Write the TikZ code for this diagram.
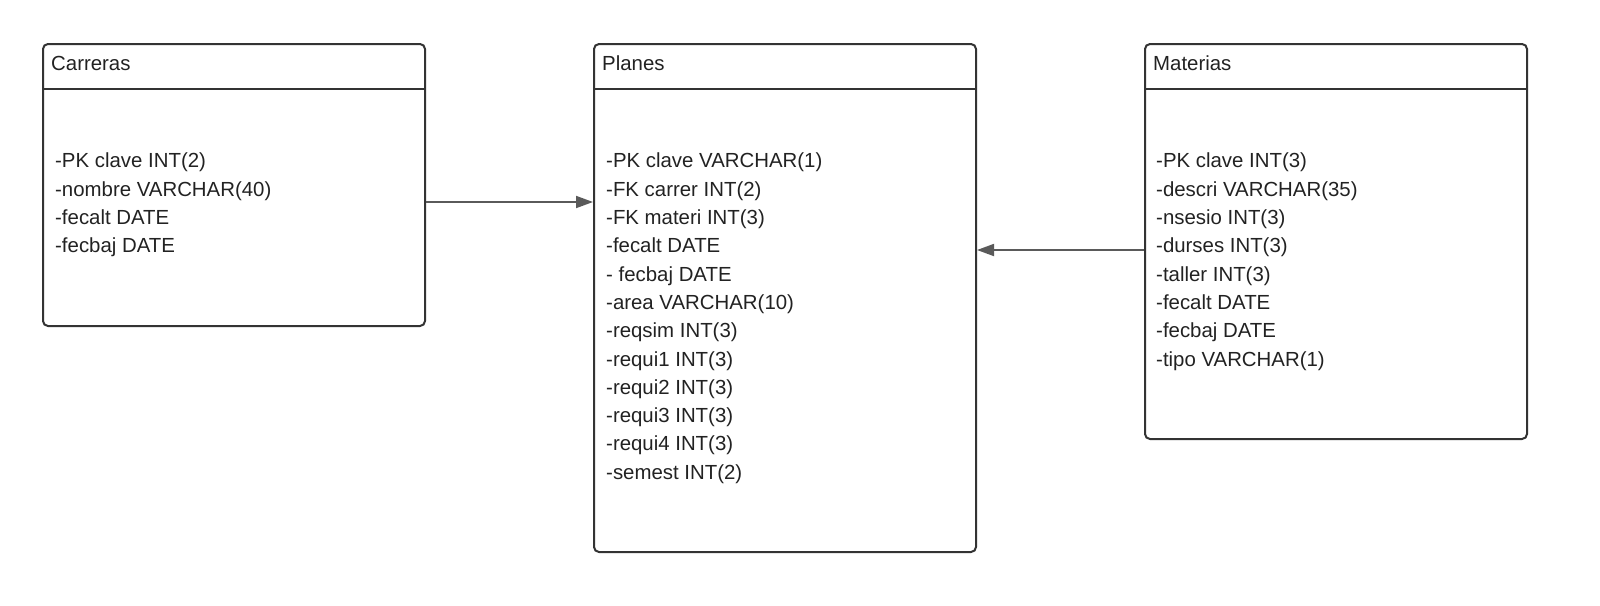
\documentclass[tikz,border=0pt]{standalone}
\usepackage{fontspec}
\setmainfont{Liberation Sans}
\usetikzlibrary{arrows.meta}
\definecolor{borde}{HTML}{333333}
\definecolor{gris}{HTML}{5A5A5A}
\definecolor{letra}{HTML}{222222}
\tikzstyle{tabla}=[draw=borde, line width=2pt, rounded corners=5pt, anchor=north west, inner sep=0pt, minimum width=382pt]
\tikzstyle{titulo}=[anchor=west, inner sep=0pt, text=letra, font=\fontsize{20.4}{28.3}\selectfont]
\tikzstyle{campos}=[anchor=north west, inner sep=0pt, align=left, text=letra, font=\fontsize{20.4}{28.3}\selectfont]
\tikzstyle{relacion}=[draw=gris, line width=1.8pt, -{Triangle[length=17pt,width=12pt]}]
\newcommand{\tabla}{\node[tabla]}

\begin{document}
\begin{tikzpicture}[x=1pt, y=-1pt]
\tabla (carreras) at (42,43) [minimum height=282pt] {};
\tabla (planes) at (593,43) [minimum height=508pt] {};
\tabla (materias) at (1144,43) [minimum height=395pt] {};
\foreach \t in {carreras, planes, materias}
  \draw[borde, line width=2pt] ([yshift=-46pt]\t.north west) -- ([yshift=-46pt]\t.north east);
\node[titulo] (carrerasT) at (51,63.5) {Carreras};
\node[titulo] (planesT) at (602,63.5) {Planes};
\node[titulo] (materiasT) at (1153,63.5) {Materias};
\node[campos] (carrerasC) at (55,153) {-PK clave INT(2)\\-nombre VARCHAR(40)\\-fecalt DATE\\-fecbaj DATE};
\node[campos] (planesC) at (606,153) {-PK clave VARCHAR(1)\\-FK carrer INT(2)\\-FK materi INT(3)\\-fecalt DATE\\- fecbaj DATE\\-area VARCHAR(10)\\-reqsim INT(3)\\-requi1 INT(3)\\-requi2 INT(3)\\-requi3 INT(3)\\-requi4 INT(3)\\-semest INT(2)};
\node[campos] (materiasC) at (1156,153) {-PK clave INT(3)\\-descri VARCHAR(35)\\-nsesio INT(3)\\-durses INT(3)\\-taller INT(3)\\-fecalt DATE\\-fecbaj DATE\\-tipo VARCHAR(1)};
\coordinate (c1) at ([yshift=-17pt]carreras.east);
\coordinate (c2) at ([yshift=-8.5pt]materias.west);
\draw[relacion] (c1) -- (c1 -| planes.west);
\draw[relacion] (c2) -- (c2 -| planes.east);
\pgfresetboundingbox
\useasboundingbox (0,0) rectangle (1600,605);
\end{tikzpicture}
\end{document}
